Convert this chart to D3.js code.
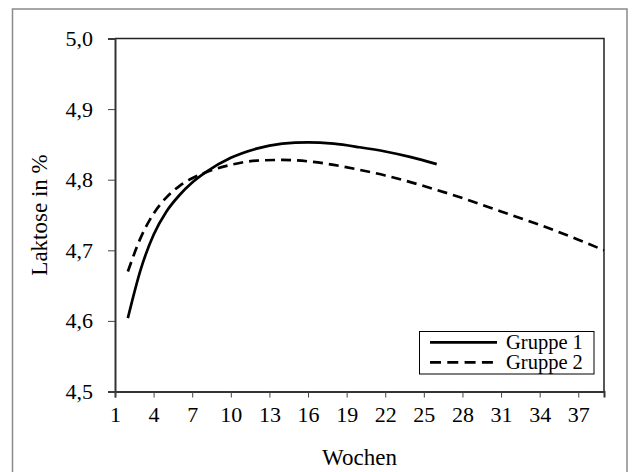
<!DOCTYPE html>
<html>
<head>
<meta charset="utf-8">
<script src="https://cdn.jsdelivr.net/npm/d3@7"></script>
<style>
  html, body { margin: 0; padding: 0; background: #fff; }
  svg { display: block; }
  svg text { font-family: "Liberation Serif", "Times New Roman", Times, "DejaVu Serif", serif; fill: #000; }
</style>
</head>
<body>
<svg id="chart" width="633" height="472"></svg>
<script>
// ---- data ----
const weeks1 = [2, 3, 4, 5, 6, 7, 8, 10, 12, 14, 16, 18, 20, 22, 24, 26];
const gruppe1 = [4.604, 4.673, 4.722, 4.755, 4.778, 4.796, 4.810, 4.831, 4.844, 4.851, 4.853, 4.851, 4.846, 4.840, 4.832, 4.822];
const weeks2 = [2, 3, 4, 5, 6, 7, 8, 10, 12, 14, 16, 18, 20, 22, 25, 28, 31, 34, 37, 39];
const gruppe2 = [4.670, 4.718, 4.752, 4.775, 4.791, 4.802, 4.810, 4.821, 4.827, 4.828, 4.826, 4.821, 4.814, 4.806, 4.791, 4.774, 4.755, 4.736, 4.715, 4.700];
const xTicks = [1, 4, 7, 10, 13, 16, 19, 22, 25, 28, 31, 34, 37];
const yTicks = [4.5, 4.6, 4.7, 4.8, 4.9, 5.0];
const seriesNames = ["Gruppe 1", "Gruppe 2"];
const xTitle = "Wochen";
const yTitle = "Laktose in %";

// ---- layout ----
const FONT = "'Liberation Serif', 'Times New Roman', Times, 'DejaVu Serif', serif";
const svg = d3.select("#chart");
const L = 115, R = 604, T = 38.5, B = 391.5;

const x = d3.scaleLinear().domain([1, 39]).range([L, R]);
const y = d3.scaleLinear().domain([4.5, 5.0]).range([B, T]);

// outer frame
svg.append("rect")
  .attr("x", 12.5).attr("y", 9).attr("width", 614.5).attr("height", 470)
  .attr("fill", "none").attr("stroke", "#8a8a8a").attr("stroke-width", 1.5);

// plot box (top and right)
svg.append("path")
  .attr("d", `M${L},${T}H${R}V${B}`)
  .attr("fill", "none").attr("stroke", "#222").attr("stroke-width", 1.5);

const fmt = d => d3.format(".1f")(d).replace(".", ",");

// y axis
const yAxis = svg.append("g")
  .attr("transform", `translate(${L},0)`)
  .call(d3.axisLeft(y).tickValues(yTicks).tickFormat(fmt).tickSize(7).tickPadding(15));
yAxis.attr("font-family", FONT).attr("font-size", 22);
yAxis.select(".domain").attr("stroke", "#333").attr("stroke-width", 2);
yAxis.selectAll(".tick line").attr("stroke", "#444").attr("stroke-width", 1);
yAxis.selectAll(".tick text").style("font-family", FONT).style("font-size", "22px").attr("fill", "#000");

// x axis
const xAxis = svg.append("g")
  .attr("transform", `translate(0,${B})`)
  .call(d3.axisBottom(x).tickValues(xTicks).tickFormat(d3.format("d")).tickSize(6).tickPadding(9));
xAxis.attr("font-family", FONT).attr("font-size", 22);
xAxis.select(".domain").attr("stroke", "#333").attr("stroke-width", 2);
xAxis.selectAll(".tick line").attr("stroke", "#444").attr("stroke-width", 1);
xAxis.selectAll(".tick text").style("font-family", FONT).style("font-size", "22px").attr("fill", "#000");

// axis titles
svg.append("text")
  .attr("x", (L + R) / 2).attr("y", 465)
  .attr("text-anchor", "middle")
  .style("font-family", FONT).style("font-size", "23px")
  .text(xTitle);
svg.append("text")
  .attr("transform", `translate(47,${(T + B) / 2}) rotate(-90)`)
  .attr("text-anchor", "middle")
  .style("font-family", FONT).style("font-size", "23px")
  .text(yTitle);

// lines
const line = d3.line().x(d => x(d[0])).y(d => y(d[1])).curve(d3.curveMonotoneX);
const data1 = weeks1.map((w, i) => [w, gruppe1[i]]);
const data2 = weeks2.map((w, i) => [w, gruppe2[i]]);

svg.append("path").datum(data2)
  .attr("d", line).attr("fill", "none")
  .attr("stroke", "#000").attr("stroke-width", 2.7)
  .attr("stroke-dasharray", "10,6");
svg.append("path").datum(data1)
  .attr("d", line).attr("fill", "none")
  .attr("stroke", "#000").attr("stroke-width", 2.7);

// legend
const lg = svg.append("g");
lg.append("rect")
  .attr("x", 419.5).attr("y", 331.5).attr("width", 174.5).attr("height", 42.5)
  .attr("fill", "#fff").attr("stroke", "#000").attr("stroke-width", 1);
const dashes = [null, "11,6.3"];
seriesNames.forEach((name, i) => {
  const yy = 342.3 + i * 20;
  lg.append("line")
    .attr("x1", 430).attr("x2", 497).attr("y1", yy).attr("y2", yy)
    .attr("stroke", "#000").attr("stroke-width", 2.7)
    .attr("stroke-dasharray", dashes[i]);
  lg.append("text")
    .attr("x", 506).attr("y", yy + 6.5)
    .style("font-family", FONT).style("font-size", "20.5px")
    .text(name);
});
</script>
</body>
</html>
